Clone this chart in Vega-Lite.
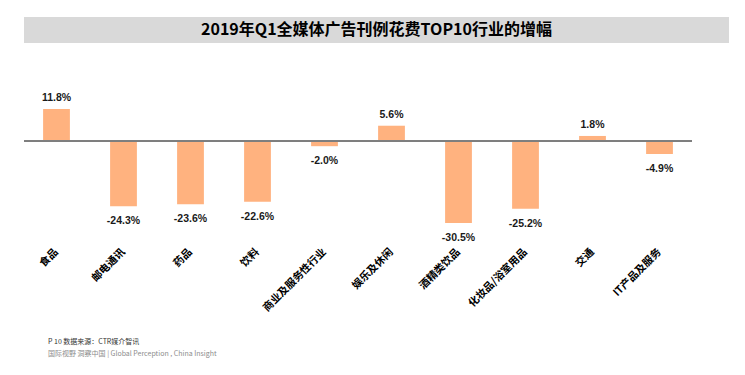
{
  "$schema": "https://vega.github.io/schema/vega-lite/v6.json",
  "padding": {"left": 15, "top": 17, "right": 0, "bottom": 0},
  "background": "white",
  "config": {"view": {"stroke": null}, "font": "Liberation Sans", "concat": {"spacing": 17}},
  "vconcat": [
    {
      "width": 705,
      "height": 26,
      "view": {"fill": "#d9d9d9", "stroke": null},
      "data": {"values": [{"t": "2019年Q1全媒体广告刊例花费TOP10行业的增幅"}]},
      "mark": {"type": "text", "font": "Liberation Sans Narrow, Noto Sans CJK SC", "fontWeight": "bold", "fontSize": 16, "color": "#000000", "align": "center", "baseline": "middle"},
      "encoding": {"text": {"field": "t"}}
    },
    {
      "width": 668,
      "height": 167,
      "title": {
        "text": "P 10 数据来源：CTR媒介智讯",
        "subtitle": "国际视野 洞察中国 | Global Perception , China Insight",
        "orient": "bottom",
        "anchor": "start",
        "font": "Noto Sans CJK SC",
        "fontSize": 7,
        "fontWeight": "normal",
        "color": "#333333",
        "subtitleFont": "Noto Sans CJK SC",
        "subtitleFontSize": 7,
        "subtitleColor": "#8c8c8c",
        "subtitlePadding": 5,
        "offset": 25,
        "dx": 33
      },
      "data": {"values": [
        {"industry": "食品", "value": 11.8, "label": "11.8%"},
        {"industry": "邮电通讯", "value": -24.3, "label": "-24.3%"},
        {"industry": "药品", "value": -23.6, "label": "-23.6%"},
        {"industry": "饮料", "value": -22.6, "label": "-22.6%"},
        {"industry": "商业及服务性行业", "value": -2.0, "label": "-2.0%"},
        {"industry": "娱乐及休闲", "value": 5.6, "label": "5.6%"},
        {"industry": "酒精类饮品", "value": -30.5, "label": "-30.5%"},
        {"industry": "化妆品/浴室用品", "value": -25.2, "label": "-25.2%"},
        {"industry": "交通", "value": 1.8, "label": "1.8%"},
        {"industry": "IT产品及服务", "value": -4.9, "label": "-4.9%"}
      ]},
      "layer": [
        {
          "mark": {"type": "bar", "color": "#ffb27f"},
          "encoding": {
            "x": {"field": "industry", "type": "nominal", "sort": null,
              "scale": {"paddingInner": 0.6, "paddingOuter": 0.285},
              "axis": {"orient": "bottom", "title": null, "ticks": false, "domain": false, "labelAngle": -45, "labelAlign": "right", "labelBaseline": "middle", "labelFont": "Noto Sans CJK SC", "labelFontWeight": "bold", "labelFontSize": 10.5, "labelColor": "#000000", "labelPadding": 23, "labelLimit": 0}},
            "y": {"field": "value", "type": "quantitative", "scale": {"domain": [-32, 30], "nice": false},
              "axis": {"title": null, "labels": false, "ticks": false, "domain": false, "grid": false, "minExtent": 9, "maxExtent": 9}}
          }
        },
        {
          "mark": {"type": "rule", "color": "#7f7f7f", "strokeWidth": 1.5},
          "encoding": {"y": {"datum": 0, "type": "quantitative"}}
        },
        {
          "transform": [{"filter": "datum.value >= 0"}],
          "mark": {"type": "text", "fontWeight": "bold", "fontSize": 10.5, "color": "#1a1a1a", "baseline": "bottom", "dy": -6},
          "encoding": {
            "x": {"field": "industry", "type": "nominal", "sort": null},
            "y": {"field": "value", "type": "quantitative"},
            "text": {"field": "label"}
          }
        },
        {
          "transform": [{"filter": "datum.value < 0"}],
          "mark": {"type": "text", "fontWeight": "bold", "fontSize": 10.5, "color": "#1a1a1a", "baseline": "top", "dy": 10},
          "encoding": {
            "x": {"field": "industry", "type": "nominal", "sort": null},
            "y": {"field": "value", "type": "quantitative"},
            "text": {"field": "label"}
          }
        }
      ]
    }
  ]
}
